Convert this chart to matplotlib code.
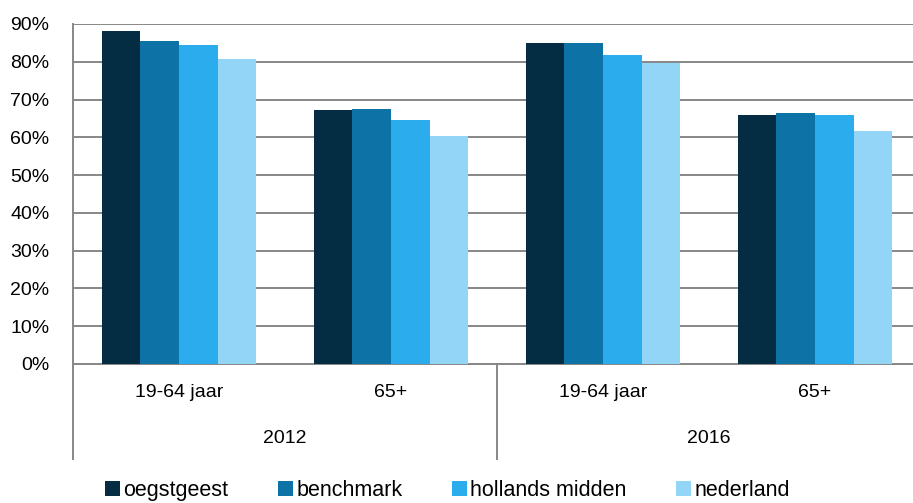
import numpy as np
import matplotlib
matplotlib.use("Agg")
import matplotlib.pyplot as plt
import matplotlib.transforms as mtransforms
from matplotlib.patches import Patch

plt.rcParams["font.family"] = ["Liberation Sans", "DejaVu Sans"]

# data
groups = ["19-64 jaar", "65+", "19-64 jaar", "65+"]
years = ["2012", "2016"]
series = ["oegstgeest", "benchmark", "hollands midden", "nederland"]
oegstgeest = [88.2, 67.2, 85.0, 66.0]
benchmark = [85.5, 67.6, 85.0, 66.5]
hollands_midden = [84.5, 64.5, 81.8, 66.0]
nederland = [80.8, 60.3, 79.8, 61.7]
values = [oegstgeest, benchmark, hollands_midden, nederland]
colors = ["#042C43", "#0D72A6", "#2BADED", "#93D5F6"]

GRID = "#878787"

fig = plt.figure(figsize=(9.13, 5.03), dpi=100)
ax = fig.add_axes([73 / 913, 1 - 364 / 503, 848 / 913, 340 / 503])

x = np.arange(len(groups))
bw = 0.73 / len(series)
for i, (name, vals, c) in enumerate(zip(series, values, colors)):
    ax.bar(x + (i - 1.5) * bw, vals, width=bw, color=c, label=name, zorder=3)

ax.set_xlim(-0.5, len(groups) - 0.5)
ax.set_ylim(0, 90)
ax.set_yticks(range(0, 91, 10))
ax.set_yticklabels([f"{v}%" for v in range(0, 91, 10)], fontsize=14)
ax.yaxis.grid(True, color=GRID, lw=1.4, zorder=0)
ax.tick_params(axis="y", length=0, pad=17)
ax.set_xticks([])
for s in ["top", "right"]:
    ax.spines[s].set_visible(False)
ax.spines["left"].set_color(GRID)
ax.spines["left"].set_linewidth(1.4)
ax.spines["bottom"].set_color(GRID)
ax.spines["bottom"].set_linewidth(1.4)

# multi-level category axis
trans = mtransforms.blended_transform_factory(ax.transData, ax.transAxes)
for xl in [-0.5, 1.5, 3.5]:
    ax.plot([xl, xl], [0, -0.28], color=GRID, lw=1.4, transform=trans, clip_on=False)
for xi, g in zip(x, groups):
    ax.text(xi, -0.085, g, transform=trans, ha="center", va="center", fontsize=14)
for k, yr in enumerate(years):
    ax.text(2 * k + 0.5, -0.218, yr, transform=trans, ha="center", va="center", fontsize=14)

handles = [Patch(facecolor=c, label=n) for n, c in zip(series, colors)]
fig.legend(handles=handles, loc="lower center", ncol=4, frameon=False, fontsize=15.5,
           bbox_to_anchor=(0.49, -0.035), handlelength=0.7, handleheight=0.7,
           handletextpad=0.15, columnspacing=2.3)

fig.savefig("out.png", dpi=100)
